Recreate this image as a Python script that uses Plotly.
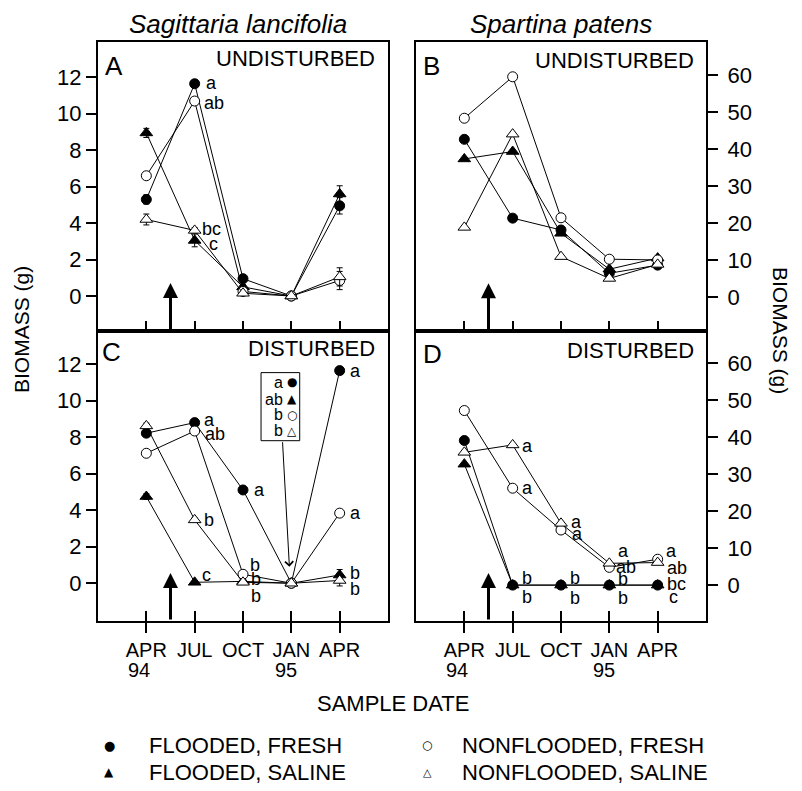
import plotly.graph_objects as go

# ---------------- data ----------------
months = [0, 3, 6, 9, 12]            # months after April 1994
month_labels = ["APR", "JUL", "OCT", "JAN", "APR"]
year_labels = ["94", "", "", "95", ""]
disturb_month = 1.5

series_names = ["FLOODED, FRESH", "NONFLOODED, FRESH", "FLOODED, SALINE", "NONFLOODED, SALINE"]

# Panel A: Sagittaria lancifolia, undisturbed (g)
A_ff = [5.3, 11.65, 0.95, 0.0, 4.95]
A_nf = [6.6, 10.7, 0.25, 0.0, 0.85]
A_fs = [8.95, 3.05, 0.5, 0.0, 5.6]
A_ns = [4.2, 3.6, 0.15, 0.0, 1.05]
A_ff_err = [0.25, 0.2, 0.15, 0.0, 0.45]
A_nf_err = [0.2, 0.2, 0.1, 0.0, 0.5]
A_fs_err = [0.25, 0.35, 0.1, 0.0, 0.45]
A_ns_err = [0.3, 0.15, 0.1, 0.0, 0.5]

# Panel B: Spartina patens, undisturbed (g)
B_ff = [42.6, 21.3, 18.1, 6.4, 8.6]
B_nf = [48.3, 59.5, 21.4, 10.2, 10.0]
B_fs = [37.3, 39.3, 17.2, 7.5, 10.5]
B_ns = [18.8, 44.0, 10.9, 5.0, 8.8]

# Panel C: Sagittaria lancifolia, disturbed (g)
C_ff = [8.22, 8.8, 5.11, 0.0, 11.65]
C_nf = [7.12, 8.34, 0.49, 0.0, 3.84]
C_fs = [4.75, 0.05, 0.1, 0.0, 0.45]
C_ns = [8.62, 3.47, 0.05, 0.0, 0.15]
C_fs_err = [0.15, 0.05, 0.05, 0.0, 0.3]
C_ns_err = [0.15, 0.1, 0.05, 0.0, 0.3]

# Panel D: Spartina patens, disturbed (g)
D_ff = [39.1, 0.0, 0.0, 0.0, 0.0]
D_nf = [47.2, 26.2, 14.9, 4.8, 7.0]
D_fs = [32.7, 0.0, 0.0, 0.0, 0.0]
D_ns = [35.9, 37.9, 16.7, 5.9, 6.1]

# significance letters: (series, sample index, text, dx px, dy px)
A_letters = [("ff", 1, "a", 9, 1), ("nf", 1, "ab", 7, -2), ("ns", 1, "bc", 5, 1), ("fs", 1, "c", 12, -4)]
C_letters = [("ff", 1, "a", 7, 3), ("nf", 1, "ab", 8, -3), ("ff", 2, "a", 9, 0), ("ns", 1, "b", 7, 0),
             ("fs", 1, "c", 5, 7), ("nf", 2, "b", 5, 9), ("ns", 2, "b", 6, 3), ("fs", 2, "b", 6, -15),
             ("ff", 4, "a", 8, 0), ("nf", 4, "a", 8, 0), ("fs", 4, "b", 8, 2), ("ns", 4, "b", 8, -9)]
D_letters = [("ns", 1, "a", 7, -1), ("nf", 1, "a", 7, 0), ("ns", 2, "a", 8, 1), ("nf", 2, "a", 9, -4),
             ("ns", 3, "a", 7, 12), ("nf", 3, "ab", 5, 0), ("nf", 4, "a", 6, 8), ("ns", 4, "ab", 7, -5),
             ("ff", 1, "b", 7, 7), ("fs", 1, "b", 7, -12), ("ff", 2, "b", 7, 7), ("fs", 2, "b", 7, -13),
             ("ff", 3, "b", 7, 6), ("fs", 3, "b", 7, -13), ("ff", 4, "bc", 7, 1), ("fs", 4, "c", 9, -12)]

# January 1995 key in panel C
C_key_letters = ["a", "ab", "b", "b"]
C_key_glyphs = ["\u25CF", "\u25B2", "\u25CB", "\u25B3"]
C_key_y = [11.01, 10.08, 9.22, 8.36]

# legend glyphs, in the order of series_names
legend_glyphs = ["\u25CF", "\u25CB", "\u25B2", "\u25B3"]

# ---------------- figure ----------------
# the page keeps the browser's 8px body margin, so the figure is sized to fill the
# 802x791 window exactly; page pixel positions are converted to paper fractions.
PAGE_MARGIN = 8
FW, FH = 802 - 2 * PAGE_MARGIN, 791 - 2 * PAGE_MARGIN
FONT = "Liberation Sans, Arial, Helvetica, sans-serif"


def px(v):
    return (v - PAGE_MARGIN) / FW


def py(v):
    return 1 - (v - PAGE_MARGIN) / FH


XL = [px(98), px(388)]
XR = [px(416), px(706)]
YT = [py(331), py(42)]
YB = [py(621), py(331)]
XRANGE = [-3, 15]
RANGES = {"A": [-1.92, 13.94], "B": [-9.2, 68.9], "C": [-2.07, 13.82], "D": [-9.7, 68.7]}

panels = {
    "A": dict(xa="x", ya="y", ff=A_ff, nf=A_nf, fs=A_fs, ns=A_ns,
              err=dict(ff=A_ff_err, nf=A_nf_err, fs=A_fs_err, ns=A_ns_err), letters=A_letters, tip=0.71),
    "B": dict(xa="x2", ya="y2", ff=B_ff, nf=B_nf, fs=B_fs, ns=B_ns, err={}, letters=[], tip=3.7),
    "C": dict(xa="x3", ya="y3", ff=C_ff, nf=C_nf, fs=C_fs, ns=C_ns,
              err=dict(fs=C_fs_err, ns=C_ns_err), letters=C_letters, tip=0.56),
    "D": dict(xa="x4", ya="y4", ff=D_ff, nf=D_nf, fs=D_fs, ns=D_ns, err={}, letters=D_letters, tip=3.3),
}

styles = {
    "ff": dict(symbol="circle", size=10, color="black"),
    "nf": dict(symbol="circle", size=10, color="white"),
    "fs": dict(symbol="triangle-up", size=11, color="black"),
    "ns": dict(symbol="triangle-up", size=11, color="white"),
}
draw_order = ["fs", "ff", "nf", "ns"]
series_key = {"ff": series_names[0], "nf": series_names[1], "fs": series_names[2], "ns": series_names[3]}

fig = go.Figure()
annotations = []

for key, p in panels.items():
    for s in draw_order:
        st = styles[s]
        err = p["err"].get(s)
        fig.add_trace(go.Scatter(
            x=months, y=p[s], xaxis=p["xa"], yaxis=p["ya"], mode="lines+markers", name=series_key[s],
            line=dict(color="black", width=1),
            marker=dict(symbol=st["symbol"], size=st["size"], color=st["color"],
                        line=dict(color="black", width=1)),
            error_y=(dict(type="data", array=err, visible=True, color="black", thickness=1, width=3)
                     if err is not None else None),
            showlegend=False, hoverinfo="skip", cliponaxis=False,
        ))
    for s, i, txt, dx, dy in p["letters"]:
        annotations.append(dict(x=months[i], y=p[s][i], xref=p["xa"], yref=p["ya"], text=txt,
                                showarrow=False, xanchor="left", yanchor="middle", xshift=dx, yshift=dy,
                                font=dict(size=18, family=FONT, color="black")))
    # disturbance arrow
    annotations.append(dict(x=disturb_month, y=p["tip"], ax=disturb_month, ay=RANGES[key][0],
                            xref=p["xa"], yref=p["ya"], axref=p["xa"], ayref=p["ya"], text="",
                            showarrow=True, arrowhead=2, arrowsize=1.0, arrowwidth=3, arrowcolor="black"))

# invisible traces for overlay tick axes
fig.add_trace(go.Scatter(x=[None], y=[None], xaxis="x5", yaxis="y3", showlegend=False, hoverinfo="skip"))
fig.add_trace(go.Scatter(x=[None], y=[None], xaxis="x6", yaxis="y4", showlegend=False, hoverinfo="skip"))

axis_common = dict(showgrid=False, zeroline=False, showline=True, linewidth=2, linecolor="black",
                   mirror=True, tickcolor="black", tickwidth=2, ticklen=10)
xcommon = dict(axis_common, range=XRANGE, tickmode="array", tickvals=months)
tickfont_x = dict(size=20, family=FONT, color="black")
tickfont_y = dict(size=22, family=FONT, color="black")

layout = dict(
    width=FW, height=FH, margin=dict(l=0, r=0, t=0, b=0),
    paper_bgcolor="white", plot_bgcolor="white", showlegend=False,
    font=dict(family=FONT, color="black"),
    xaxis=dict(xcommon, domain=XL, anchor="y", ticks="inside", showticklabels=False),
    xaxis2=dict(xcommon, domain=XR, anchor="y2", ticks="inside", showticklabels=False),
    xaxis3=dict(xcommon, domain=XL, anchor="y3", ticks="outside", ticktext=month_labels, tickfont=tickfont_x),
    xaxis4=dict(xcommon, domain=XR, anchor="y4", ticks="outside", ticktext=month_labels, tickfont=tickfont_x),
    xaxis5=dict(range=XRANGE, overlaying="x3", anchor="y3", tickmode="array", tickvals=months,
                ticks="inside", ticklen=10, tickwidth=2, tickcolor="black", showticklabels=False,
                showline=False, showgrid=False, zeroline=False),
    xaxis6=dict(range=XRANGE, overlaying="x4", anchor="y4", tickmode="array", tickvals=months,
                ticks="inside", ticklen=10, tickwidth=2, tickcolor="black", showticklabels=False,
                showline=False, showgrid=False, zeroline=False),
    yaxis=dict(axis_common, domain=YT, anchor="x", range=RANGES["A"], tickvals=[0, 2, 4, 6, 8, 10, 12],
               ticks="outside", tickfont=tickfont_y),
    yaxis2=dict(axis_common, domain=YT, anchor="x2", side="right", range=RANGES["B"],
                tickvals=[0, 10, 20, 30, 40, 50, 60], ticks="outside", tickfont=tickfont_y,
                ticklabelstandoff=5),
    yaxis3=dict(axis_common, domain=YB, anchor="x3", range=RANGES["C"], tickvals=[0, 2, 4, 6, 8, 10, 12],
                ticks="outside", tickfont=tickfont_y),
    yaxis4=dict(axis_common, domain=YB, anchor="x4", side="right", range=RANGES["D"],
                tickvals=[0, 10, 20, 30, 40, 50, 60], ticks="outside", tickfont=tickfont_y,
                ticklabelstandoff=5),
)

# year labels under the month ticks
for xa in ["x3", "x4"]:
    for i, yl in enumerate(year_labels):
        if yl:
            annotations.append(dict(x=months[i], y=py(670), xref=xa, yref="paper", text=yl, showarrow=False,
                                    xanchor="left", yanchor="middle", xshift=-20 if i == 0 else -18,
                                    font=dict(size=20, family=FONT, color="black")))

# titles and panel labels
texts = [
    ("<i>Sagittaria lancifolia</i>", 238, 24, 26, "center"),
    ("<i>Spartina patens</i>", 561, 24, 26, "center"),
    ("A", 103, 66, 26, "left"), ("B", 421, 66, 26, "left"),
    ("C", 100, 352, 26, "left"), ("D", 421, 354, 26, "left"),
    ("UNDISTURBED", 377, 59, 22, "right"), ("UNDISTURBED", 696, 60, 22, "right"),
    ("DISTURBED", 377, 348, 22, "right"), ("DISTURBED", 696, 350, 22, "right"),
    ("SAMPLE DATE", 393, 703, 22, "center"),
]
for t, x0, y0, fs, xa in texts:
    annotations.append(dict(x=px(x0), y=py(y0), xref="paper", yref="paper", text=t, showarrow=False,
                            xanchor=xa, yanchor="middle", font=dict(size=fs, family=FONT, color="black")))

annotations.append(dict(x=px(21), y=py(330), xref="paper", yref="paper", text="BIOMASS (g)", showarrow=False,
                        textangle=-90, xanchor="center", yanchor="middle",
                        font=dict(size=21, family=FONT, color="black")))
annotations.append(dict(x=px(781), y=py(330), xref="paper", yref="paper", text="BIOMASS (g)", showarrow=False,
                        textangle=90, xanchor="center", yanchor="middle",
                        font=dict(size=21, family=FONT, color="black")))

# legend (two columns of symbol + label)
legend_cols = [(109, 147), (427, 460), (109, 147), (427, 460)]
legend_rows = [745, 772, ]
legend_rows = [745, 745, 772, 772]
legend_glyph_size = [13, 12, 12, 11]
for name, gl, (gx, tx), ry, gs in zip(series_names, legend_glyphs, legend_cols, legend_rows, legend_glyph_size):
    annotations.append(dict(x=px(gx), y=py(ry), xref="paper", yref="paper", text=gl, showarrow=False,
                            xanchor="center", yanchor="middle",
                            font=dict(size=gs, family="DejaVu Sans", color="black")))
    annotations.append(dict(x=px(tx), y=py(ry), xref="paper", yref="paper", text=name, showarrow=False,
                            xanchor="left", yanchor="middle", font=dict(size=22, family=FONT, color="black")))

# key box in panel C for January 1995
for lt, gl, yk in zip(C_key_letters, C_key_glyphs, C_key_y):
    annotations.append(dict(x=8.63, y=yk, xref="x3", yref="y3", text=lt, showarrow=False, xanchor="right",
                            yanchor="middle", font=dict(size=16, family=FONT, color="black")))
    annotations.append(dict(x=9.05, y=yk, xref="x3", yref="y3", text=gl, showarrow=False, xanchor="center",
                            yanchor="middle", font=dict(size=12, family="DejaVu Sans", color="black")))
annotations.append(dict(x=8.88, y=0.9, ax=8.45, ay=7.81, xref="x3", yref="y3", axref="x3", ayref="y3",
                        text="", showarrow=True, arrowhead=4, arrowsize=1.6, arrowwidth=1, arrowcolor="black"))

shapes = [dict(type="rect", xref="x3", yref="y3", x0=7.12, x1=9.52, y0=7.81, y1=11.54,
               line=dict(color="black", width=1), fillcolor="white", layer="below")]

layout["annotations"] = annotations
layout["shapes"] = shapes
fig.update_layout(**layout)
fig.write_html("out.html", config={"displayModeBar": False})
